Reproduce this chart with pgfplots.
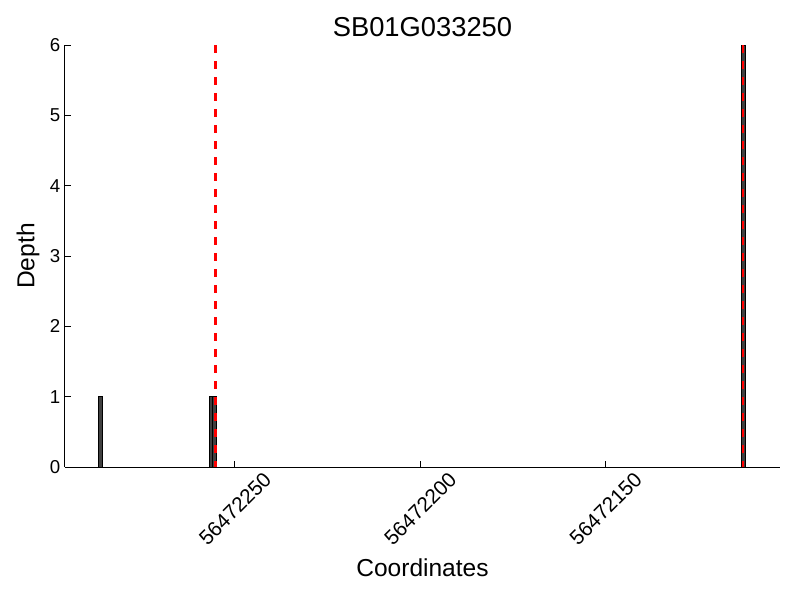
\documentclass[border=0pt]{standalone}
\usepackage{graphicx}
\usepackage{pgfplots}
\pgfplotsset{compat=1.18}
\usepackage{fontspec}
\setmainfont{Liberation Sans}
\definecolor{barfill}{HTML}{404040}
\begin{document}
\begin{tikzpicture}
\path[use as bounding box] (-48.75pt,-99.75pt) rectangle (551.25pt,350.25pt);
\begin{axis}[
  at={(0,0)}, anchor=south west,
  scale only axis, width=536.25pt, height=316.5pt,
  x dir=reverse,
  xmin=102.98, xmax=295.86, ymin=0, ymax=6,
  axis lines=left,
  axis line style={-, line width=0.75pt, black},
  tick align=inside, major tick length=4.5pt,
  tick style={black, line width=0.75pt},
  xtick={250,200,150},
  xticklabels={\rotatebox{45}{56472250},\rotatebox{45}{56472200},\rotatebox{45}{56472150}},
  ytick={0,1,2,3,4,5,6},
  /pgf/number format/assume math mode=true,
  yticklabel style={font=\fontsize{14}{16}\selectfont},
  xticklabel style={anchor=north, yshift=0.5pt, font=\fontsize{15.5}{18}\selectfont},
  title={SB01G033250},
  title style={at={(axis description cs:0.5,1.0213)}, anchor=base, yshift=-6pt, font=\fontsize{20.5}{24}\selectfont},
  xlabel={Coordinates},
  xlabel style={at={(axis description cs:0.5,-0.26)}, anchor=base, font=\fontsize{18.4}{22}\selectfont},
  ylabel={Depth},
  ylabel style={at={(axis description cs:-0.0427,0.5)}, anchor=base, rotate=0, font=\fontsize{18.4}{22}\selectfont},
  clip=false,
]
\addplot[ybar, bar width=1, fill=barfill, draw=black, line width=0.75pt]
  coordinates {(286.36,1) (256.44,1) (255.44,1) (112.9,6)};
\addplot[red, line width=1.9pt, dash pattern=on 6pt off 6pt]
  coordinates {(255.3,6) (255.3,0)};
\addplot[red, line width=1.9pt, dash pattern=on 6pt off 6pt]
  coordinates {(112.9,6) (112.9,0)};
\end{axis}
\end{tikzpicture}
\end{document}
